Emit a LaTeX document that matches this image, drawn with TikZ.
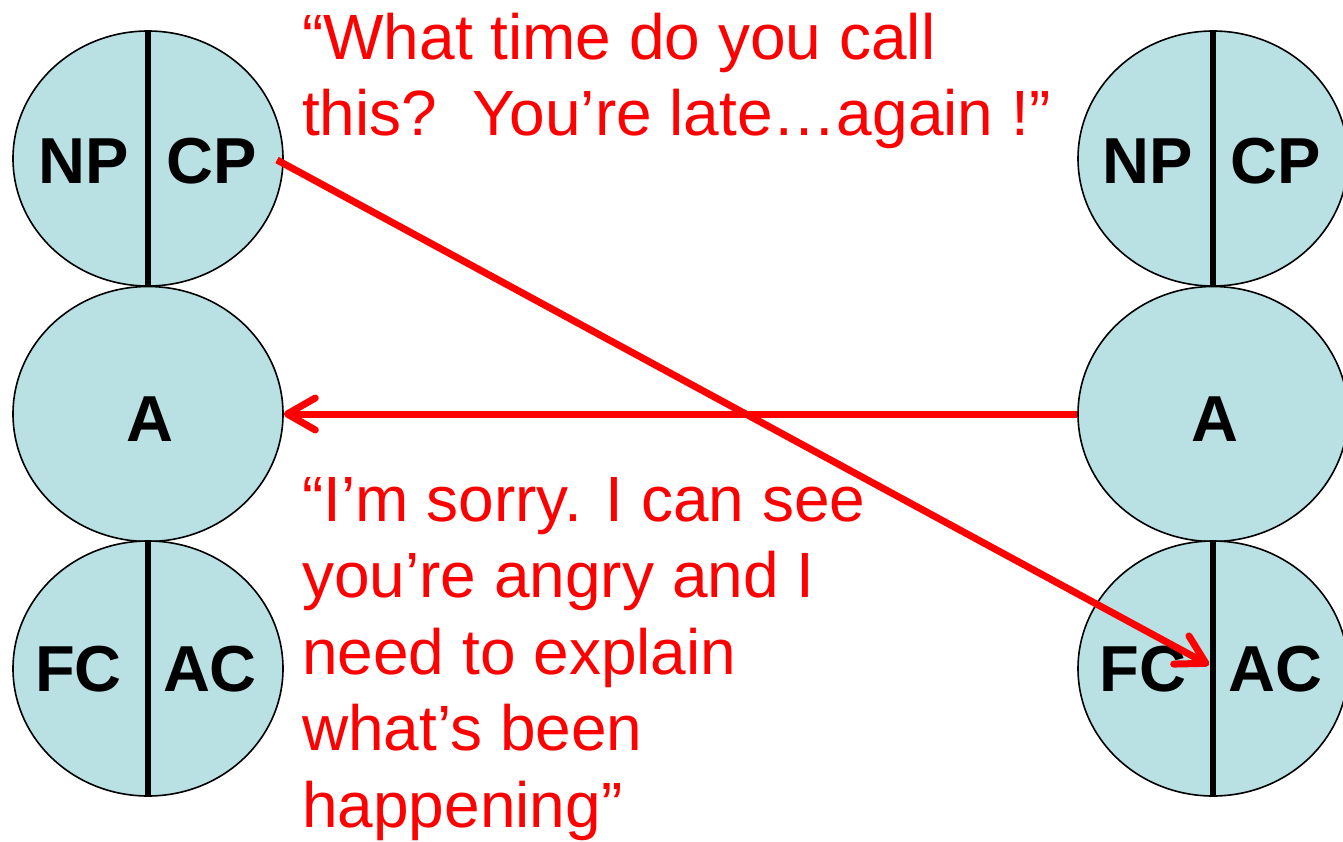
\documentclass[tikz,border=0pt]{standalone}
\usepackage{fontspec}
\setmainfont{Liberation Sans}
\usetikzlibrary{shapes.geometric,arrows.meta}
\definecolor{discfill}{RGB}{185,224,227}
\definecolor{talkred}{RGB}{255,0,0}
\tikzset{
  disc/.style={ellipse, draw=black, line width=1.6pt, fill=discfill,
               minimum width=270pt, minimum height=255pt, inner sep=0pt},
  divider/.style={draw=black, line width=5.5pt},
  label/.style={font=\fontsize{65}{70}\selectfont\bfseries, inner sep=0pt, anchor=base},
  speech/.style={font=\fontsize{64}{76.5}\selectfont, text=talkred, align=left,
                 inner sep=0pt, anchor=base west},
  talk/.style={draw=talkred, line width=7pt,
               -{Straight Barb[length=28pt, width=32pt, round]}}
}
\begin{document}
\begin{tikzpicture}[x=1pt, y=-1pt]
\useasboundingbox (0,0) rectangle (1343,841);
\clip (0,0) rectangle (1343,841);

% left column of states
\node[disc] (lTop) at (148,158.5) {};
\draw[divider] (lTop.north) -- (lTop.south);
\node[disc] (lMid) at (148,414) {};
\node[disc] (lBot) at (148,668.5) {};
\draw[divider] (lBot.north) -- (lBot.south);

% right column of states
\node[disc] (rTop) at (1213,158.5) {};
\draw[divider] (rTop.north) -- (rTop.south);
\node[disc] (rMid) at (1213,414) {};
\node[disc] (rBot) at (1213,668.5) {};
\draw[divider] (rBot.north) -- (rBot.south);

% labels
\node[label] (lNP) at (83.5,183) {NP};
\node[label] (lCP) at (211.5,183) {CP};
\node[label] (lA)  at (150,441) {A};
\node[label] (lFC) at (78.5,691) {FC};
\node[label] (lAC) at (210,691) {AC};
\node[label] (rNP) at (1148,183) {NP};
\node[label] (rCP) at (1276,183) {CP};
\node[label] (rA)  at (1215,441) {A};
\node[label] (rFC) at (1143,691) {FC};
\node[label] (rAC) at (1275,691) {AC};

% spoken lines (anchored on the baseline of their last line)
\node[speech] (q1) at (302,135.5) {“What time do you call\\this?\ \ You’re late…again !”};
\node[speech] (q2) at (302,827) {“I’m sorry. I can see\\you’re angry and I\\need to explain\\what’s been\\happening”};

% transactions
\coordinate (cpOut) at (277,160);
\coordinate (acIn) at (1209,665);
\draw[talk] (rMid.west) -- (lMid.east);
\draw[talk] (cpOut) -- (acIn);
\end{tikzpicture}
\end{document}
